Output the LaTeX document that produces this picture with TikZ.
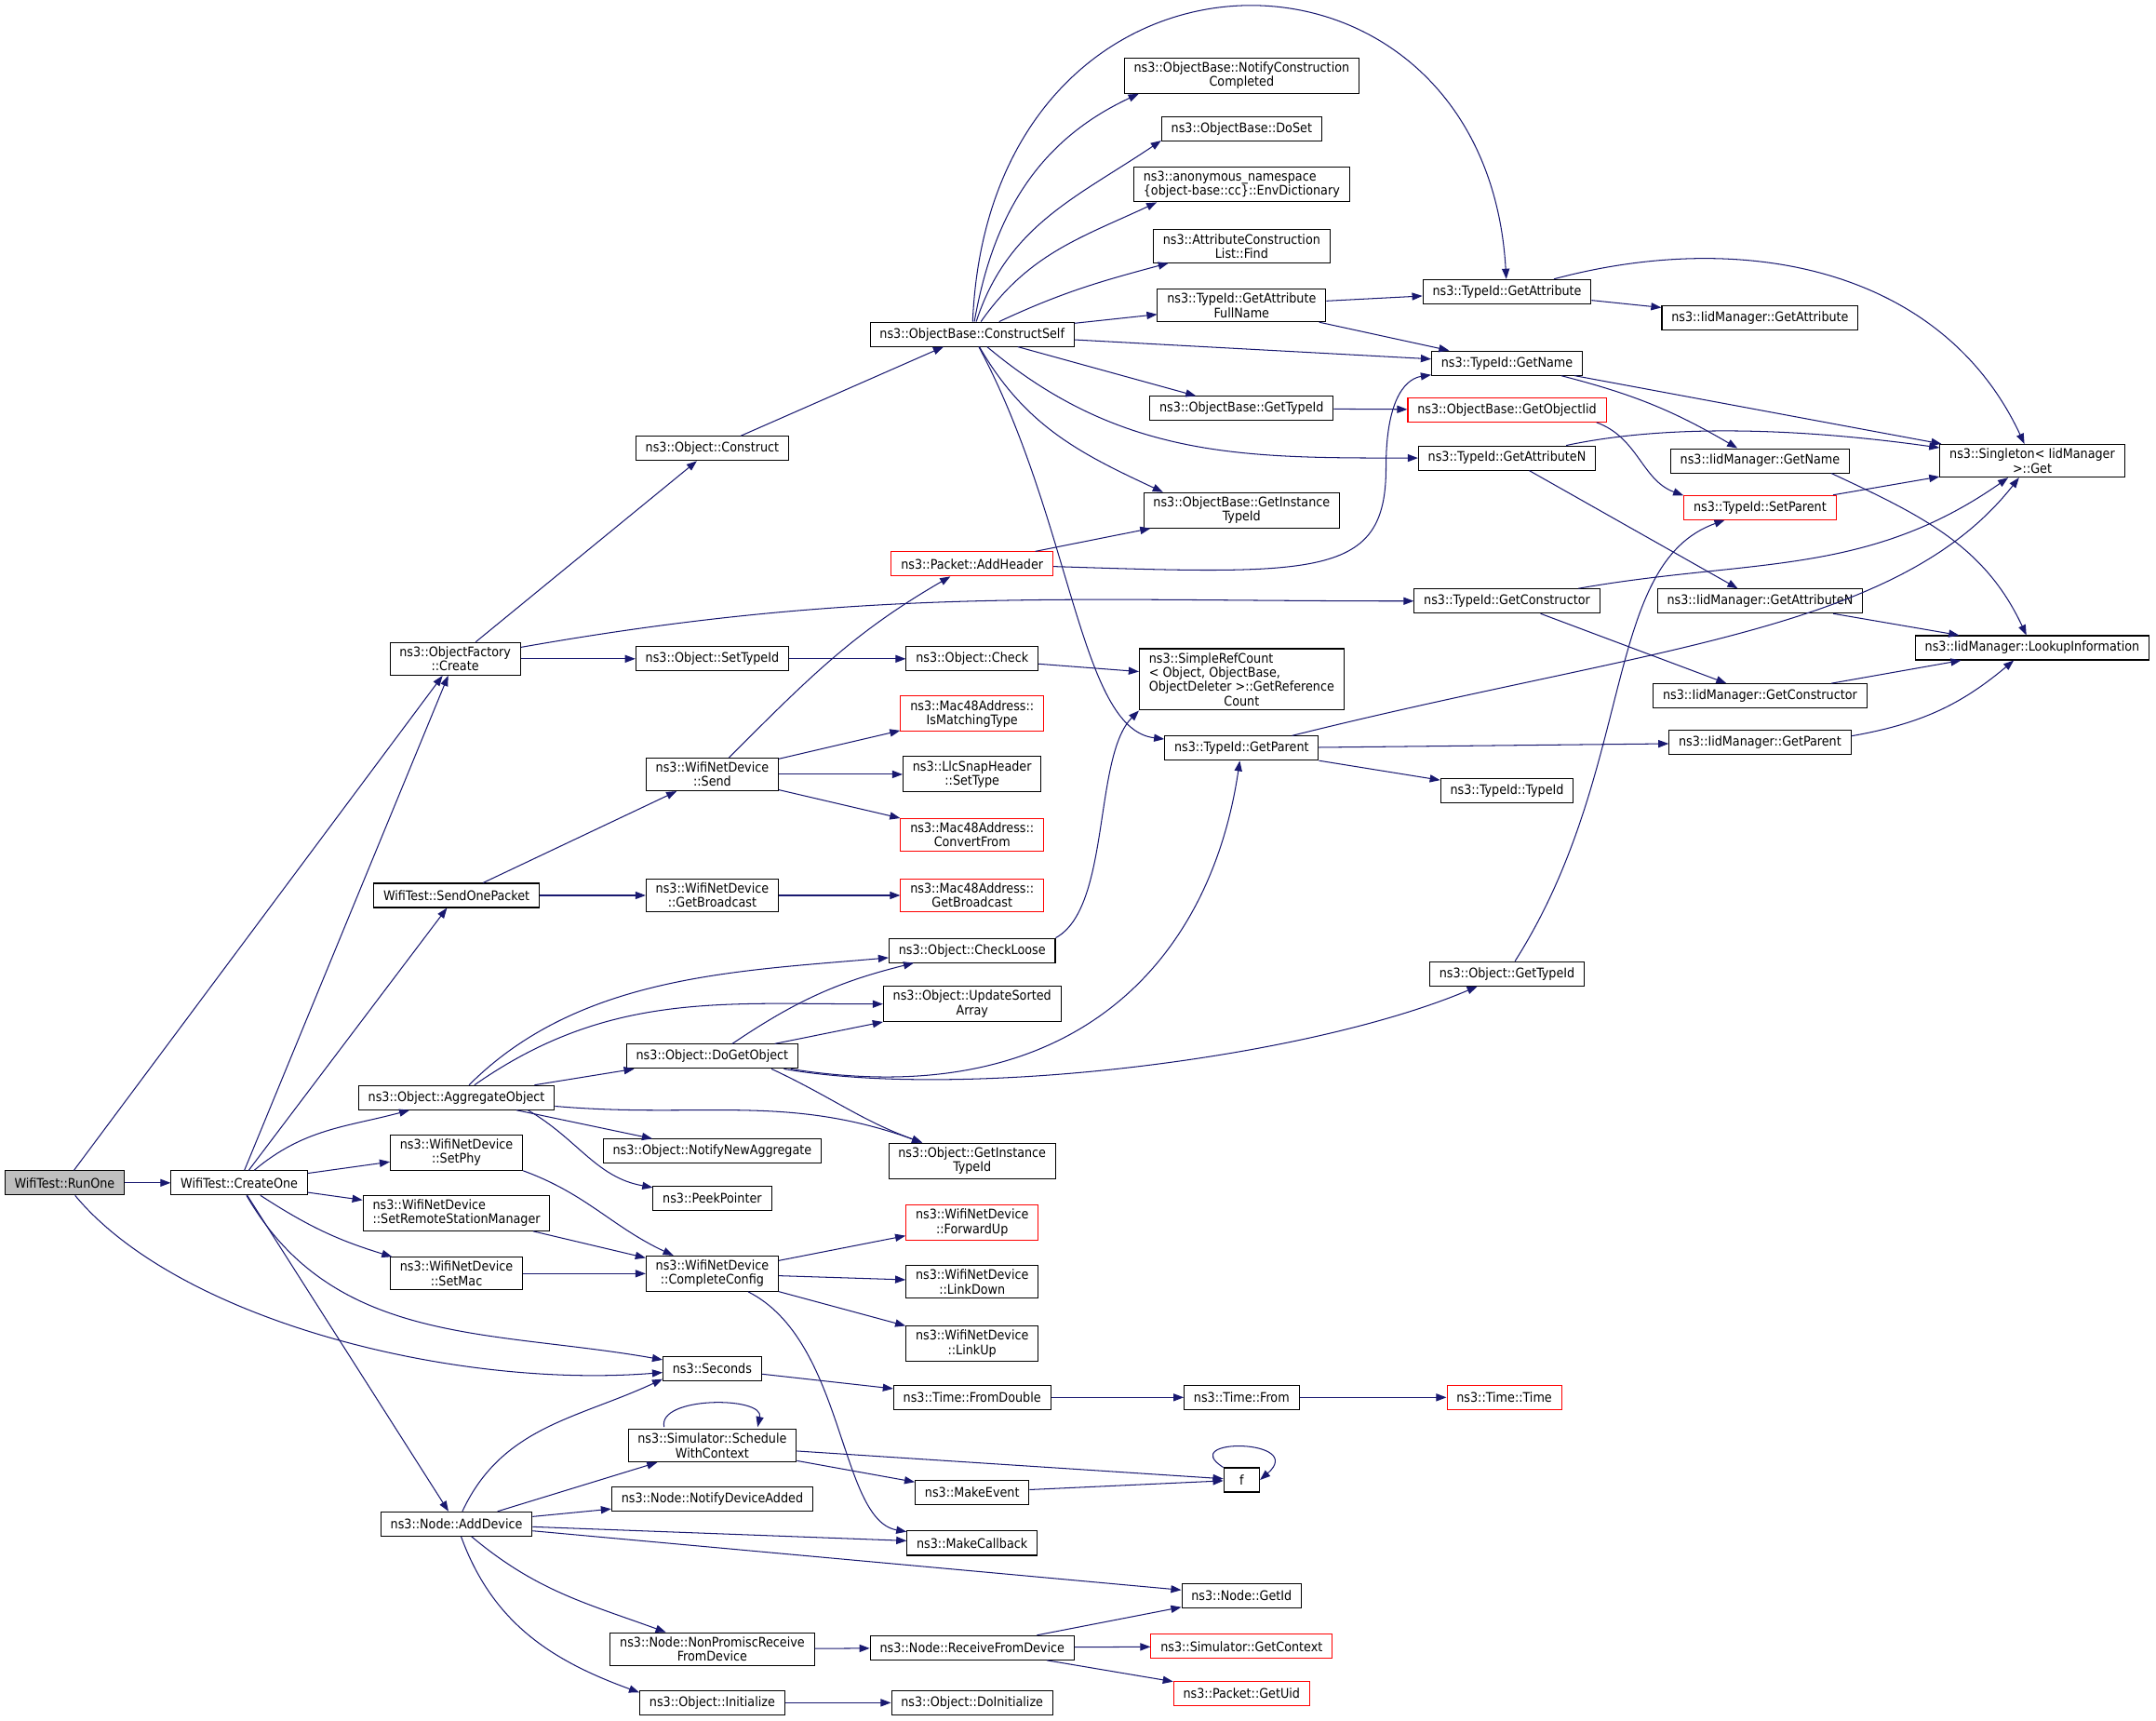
\documentclass[tikz,border=0pt]{standalone}
\usepackage{fontspec}
\setmainfont{DejaVu Sans Condensed}
\usepackage{tikz}
\usetikzlibrary{arrows.meta}

\definecolor{edgeblue}{HTML}{191970}
\definecolor{nodered}{HTML}{FF0000}
\definecolor{rootgray}{HTML}{BFBFBF}

\begin{document}
\begin{tikzpicture}[x=1pt, y=1pt, >={Triangle[length=7.5pt,width=5.5pt]},
    fn/.style={draw, line width=0.7pt, fill=white, inner xsep=7pt, inner ysep=3pt,
        minimum height=17.6pt, align=center, font=\fontsize{9.6}{10.4}\selectfont},
    hot/.style={fn, draw=nodered},
    root/.style={fn, fill=rootgray},
    call/.style={->, color=edgeblue, line width=0.7pt}]

    \useasboundingbox (0,0) rectangle (1568,-1251);

    % callers on the left
    \node[root] (runone) at (47,-860) {WifiTest::RunOne};
    \node[fn] (createone) at (174,-860) {WifiTest::CreateOne};

    \node[fn] (ofcreate) at (331,-479) {ns3::ObjectFactory\\::Create};
    \node[fn] (sendpkt) at (332,-651) {WifiTest::SendOnePacket};
    \node[fn] (aggobj) at (332,-798) {ns3::Object::AggregateObject};
    \node[fn] (setphy) at (332,-838) {ns3::WifiNetDevice\\::SetPhy};
    \node[fn, align=left] (setrsm) at (332,-882) {ns3::WifiNetDevice\\::SetRemoteStationManager};
    \node[fn] (setmac) at (332,-926) {ns3::WifiNetDevice\\::SetMac};
    \node[fn] (adddev) at (332,-1108) {ns3::Node::AddDevice};

    \node[fn] (construct) at (518,-326) {ns3::Object::Construct};
    \node[fn] (settypeid) at (518,-479) {ns3::Object::SetTypeId};
    \node[fn] (wsend) at (518,-563) {ns3::WifiNetDevice\\::Send};
    \node[fn] (wgetbc) at (518,-651) {ns3::WifiNetDevice\\::GetBroadcast};
    \node[fn] (dogetobj) at (518,-768) {ns3::Object::DoGetObject};
    \node[fn] (notifyagg) at (518,-837) {ns3::Object::NotifyNewAggregate};
    \node[fn] (peekptr) at (518,-871) {ns3::PeekPointer};
    \node[fn] (complcfg) at (518,-926) {ns3::WifiNetDevice\\::CompleteConfig};
    \node[fn] (seconds) at (518,-995) {ns3::Seconds};
    \node[fn] (schedctx) at (518,-1051) {ns3::Simulator::Schedule\\WithContext};
    \node[fn] (notifydev) at (518,-1090) {ns3::Node::NotifyDeviceAdded};
    \node[fn] (nonprom) at (518,-1199) {ns3::Node::NonPromiscReceive\\FromDevice};
    \node[fn] (oinit) at (518,-1238) {ns3::Object::Initialize};

    % middle column
    \node[fn] (constself) at (707,-243) {ns3::ObjectBase::ConstructSelf};
    \node[hot] (addheader) at (707,-410) {ns3::Packet::AddHeader};
    \node[fn] (ocheck) at (707,-479) {ns3::Object::Check};
    \node[hot] (ismatch) at (707,-519) {ns3::Mac48Address::\\IsMatchingType};
    \node[fn] (llcset) at (707,-563) {ns3::LlcSnapHeader\\::SetType};
    \node[hot] (convfrom) at (707,-607) {ns3::Mac48Address::\\ConvertFrom};
    \node[hot] (macgetbc) at (707,-651) {ns3::Mac48Address::\\GetBroadcast};
    \node[fn] (checkloose) at (707,-691) {ns3::Object::CheckLoose};
    \node[fn] (updsort) at (707,-730) {ns3::Object::UpdateSorted\\Array};
    \node[fn] (ogetinst) at (707,-844) {ns3::Object::GetInstance\\TypeId};
    \node[hot] (fwdup) at (707,-889) {ns3::WifiNetDevice\\::ForwardUp};
    \node[fn] (linkdown) at (707,-932) {ns3::WifiNetDevice\\::LinkDown};
    \node[fn] (linkup) at (707,-977) {ns3::WifiNetDevice\\::LinkUp};
    \node[fn] (fromdbl) at (707,-1016) {ns3::Time::FromDouble};
    \node[fn] (mkevent) at (707,-1085) {ns3::MakeEvent};
    \node[fn] (mkcb) at (707,-1122) {ns3::MakeCallback};
    \node[fn] (recvdev) at (707,-1198) {ns3::Node::ReceiveFromDevice};
    \node[fn] (odoinit) at (707,-1238) {ns3::Object::DoInitialize};

    \node[fn] (notifycc) at (903,-55) {ns3::ObjectBase::NotifyConstruction\\Completed};
    \node[fn] (doset) at (903,-94) {ns3::ObjectBase::DoSet};
    \node[fn, align=left] (envdict) at (903,-134) {ns3::anonymous\_namespace\\\{object-base::cc\}::EnvDictionary};
    \node[fn] (acfind) at (903,-179) {ns3::AttributeConstruction\\List::Find};
    \node[fn] (gafull) at (903,-222) {ns3::TypeId::GetAttribute\\FullName};
    \node[fn] (obgettid) at (903,-297) {ns3::ObjectBase::GetTypeId};
    \node[fn] (obgetinst) at (903,-371) {ns3::ObjectBase::GetInstance\\TypeId};
    \node[fn] (simpleref) at (903,-494) {\rlap{ns3::SimpleRefCount}\phantom{ObjectDeleter >::GetReference}\\\rlap{< Object, ObjectBase,}\phantom{ObjectDeleter >::GetReference}\\ObjectDeleter >::GetReference\\Count};
    \node[fn] (tgetparent) at (903,-544) {ns3::TypeId::GetParent};
    \node[fn] (timefrom) at (903,-1016) {ns3::Time::From};
    \node[fn, minimum width=26pt] (ffun) at (903,-1076) {f};
    \node[fn] (nodegetid) at (903,-1160) {ns3::Node::GetId};
    \node[hot] (simctx) at (903,-1197) {ns3::Simulator::GetContext};
    \node[hot] (pktuid) at (903,-1231) {ns3::Packet::GetUid};

    % right part
    \node[fn] (tgetattr) at (1096,-212) {ns3::TypeId::GetAttribute};
    \node[fn] (tgetname) at (1096,-264) {ns3::TypeId::GetName};
    \node[hot] (getobjiid) at (1096,-298) {ns3::ObjectBase::GetObjectIid};
    \node[fn] (tgetattrn) at (1096,-333) {ns3::TypeId::GetAttributeN};
    \node[fn] (tgetctor) at (1096,-437) {ns3::TypeId::GetConstructor};
    \node[fn] (ttypeid) at (1096,-575) {ns3::TypeId::TypeId};
    \node[fn] (ogettid) at (1096,-708) {ns3::Object::GetTypeId};
    \node[hot] (timetime) at (1094,-1016) {ns3::Time::Time};

    \node[fn] (iidgetattr) at (1280,-231) {ns3::IidManager::GetAttribute};
    \node[fn] (iidgetname) at (1280,-335) {ns3::IidManager::GetName};
    \node[hot] (setparent) at (1280,-369) {ns3::TypeId::SetParent};
    \node[fn] (iidgetattrn) at (1280,-437) {ns3::IidManager::GetAttributeN};
    \node[fn] (iidgetctor) at (1280,-506) {ns3::IidManager::GetConstructor};
    \node[fn] (iidgetparent) at (1280,-540) {ns3::IidManager::GetParent};

    \node[fn] (singleton) at (1478,-335) {ns3::Singleton< IidManager\\ >::Get};
    \node[fn] (lookup) at (1478,-471) {ns3::IidManager::LookupInformation};

    \path[call]
        (runone) edge (createone)
        (runone) edge (ofcreate)

        (createone) edge (ofcreate)
        (createone) edge (sendpkt)
        (createone) edge[out=40, in=195] (aggobj)
        (createone) edge (setphy)
        (createone) edge (setrsm)
        (createone) edge[bend right=8] (setmac)
        (createone) edge[out=-60, in=170] (seconds)
        (createone) edge (adddev)

        (ofcreate) edge (construct)
        (ofcreate) edge (settypeid)
        (ofcreate) edge[out=10, in=180] (tgetctor)

        (construct) edge (constself)

        (constself) edge[out=80, in=205] (notifycc.-170)
        (constself) edge[out=72, in=214] (doset.-172)
        (constself) edge[out=55, in=205] (envdict.-168)
        (constself) edge[out=25, in=195] (acfind.-167)
        (constself) edge (gafull)
        (constself) edge (tgetname)
        (constself) edge (obgettid)
        (constself) edge[out=-40, in=180] (tgetattrn)
        (constself) edge[out=-60, in=155] (obgetinst.167)

        (gafull) edge (tgetattr)
        (gafull) edge (tgetname)

        (tgetattr) edge (iidgetattr)
        (tgetattr) edge[out=15, in=115] (singleton)

        (tgetname) edge[bend left=8] (iidgetname)
        (tgetname) edge (singleton)

        (obgettid) edge (getobjiid)
        (getobjiid.-8) edge[out=-20, in=160] (setparent.171)

        (tgetattrn) edge[out=12, in=172, looseness=0.8] (singleton)
        (tgetattrn) edge (iidgetattrn)

        (iidgetname.-10) edge[out=-25, in=115] (lookup)
        (setparent) edge (singleton)

        (tgetctor) edge[out=10, in=215] (singleton)
        (tgetctor) edge (iidgetctor)

        (iidgetattrn) edge (lookup)
        (iidgetctor) edge (lookup)
        (iidgetparent) edge[bend right=15] (lookup)

        (tgetparent) edge (iidgetparent)
        (tgetparent) edge (ttypeid)

        (addheader) edge (obgetinst)
        (settypeid) edge (ocheck)
        (ocheck) edge (simpleref)

        (wsend) edge[out=45, in=210] (addheader)
        (wsend) edge (ismatch)
        (wsend) edge (llcset)
        (wsend) edge (convfrom)

        (sendpkt) edge (wsend)
        (sendpkt) edge (wgetbc)
        (wgetbc) edge (macgetbc)

        (aggobj) edge[out=45, in=185, looseness=0.9] (checkloose)
        (aggobj) edge[out=35, in=180] (updsort)
        (aggobj) edge (dogetobj)
        (aggobj) edge (notifyagg)
        (aggobj.-10) edge[out=-30, in=170] (peekptr)
        (aggobj) edge[out=-5, in=160] (ogetinst)

        (dogetobj) edge[bend left=10] (checkloose)
        (dogetobj) edge (updsort)
        (dogetobj.-12) edge[out=-25, in=160] (ogetinst)

        (setphy.south east) edge[out=-20, in=155] (complcfg)
        (setrsm) edge (complcfg)
        (setmac) edge (complcfg)

        (complcfg) edge (fwdup)
        (complcfg) edge (linkdown)
        (complcfg) edge (linkup)

        (seconds) edge (fromdbl)
        (fromdbl) edge (timefrom)
        (timefrom) edge (timetime)

        (schedctx) edge (ffun)
        (schedctx) edge (mkevent)
        (mkevent) edge (ffun)

        (adddev) edge[out=65, in=205] (seconds.-168)
        (adddev) edge (schedctx)
        (adddev) edge (notifydev)
        (adddev) edge (mkcb)
        (adddev) edge (nodegetid)
        (adddev) edge[out=-40, in=160] (nonprom)
        (adddev) edge[out=-70, in=160] (oinit.172)

        (nonprom) edge (recvdev)
        (recvdev) edge (nodegetid)
        (recvdev) edge (simctx)
        (recvdev) edge (pktuid)
        (oinit) edge (odoinit);

    % long bent calls
    \draw[call] (runone) .. controls (130,-960) and (330,-1010) .. (seconds);
    \draw[call] (constself) .. controls (720,66) and (1080,66) .. (tgetattr);
    \draw[call] (constself) .. controls (780,-380) and (785,-530) .. (tgetparent);
    \draw[call] (tgetparent) .. controls (1200,-470) and (1380,-460) .. (singleton);
    \draw[call] (ogettid) .. controls (1190,-560) and (1165,-410) .. (setparent);
    \draw[call] (addheader) .. controls (960,-418) and (1008,-420) .. (1008,-340)
        .. controls (1008,-285) and (1025,-275) .. (tgetname);
    \draw[call] (checkloose.north east) .. controls (808,-660) and (795,-550) .. (simpleref.south west);
    \draw[call] (dogetobj) .. controls (780,-810) and (880,-700) .. (tgetparent);
    \draw[call] (dogetobj) .. controls (700,-800) and (950,-770) .. (ogettid);
    \draw[call] (complcfg) .. controls (615,-975) and (610,-1105) .. (mkcb);

    % self calls
    \draw[call] (483,-1037.5) .. controls (478,-1015) and (556,-1015) .. (551,-1037.5);
    \draw[call] (ffun.north west) .. controls (855,-1045) and (951,-1046) .. (ffun.east);

\end{tikzpicture}
\end{document}
